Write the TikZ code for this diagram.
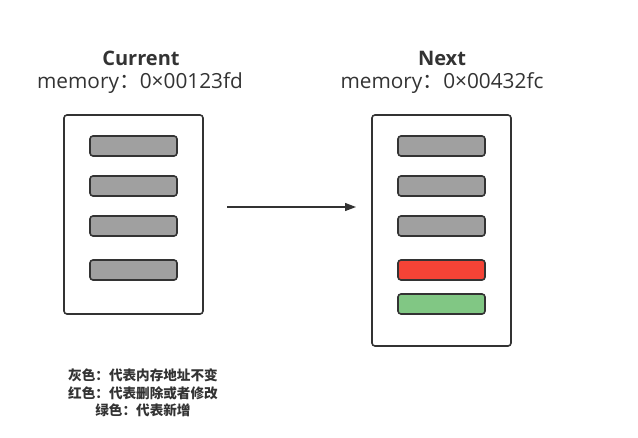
\documentclass[tikz,border=0pt]{standalone}
\usepackage{fontspec}
\setmainfont{Open Sans}
\newfontfamily\cjk{Noto Sans CJK SC}
\usetikzlibrary{arrows.meta}
\definecolor{ink}{HTML}{333333}
\definecolor{barGray}{HTML}{A0A0A0}
\definecolor{barRed}{HTML}{F44336}
\definecolor{barGreen}{HTML}{81C784}
\tikzset{
  frame/.style={draw=ink, line width=1.6pt, rounded corners=3pt, fill=white},
  bar/.style={draw=ink, line width=1.6pt, rounded corners=3pt, minimum width=87pt, minimum height=20pt, inner sep=0pt},
  title/.style={text=ink, font=\fontsize{20}{23}\selectfont\bfseries},
  subtitle/.style={text=ink, font=\fontsize{20.8}{24}\selectfont},
  legend/.style={text=ink, font=\cjk\fontsize{13.6}{17.5}\selectfont\bfseries, align=center}
}
\begin{document}
\begin{tikzpicture}[x=1pt,y=-1pt]
\useasboundingbox (0,0) rectangle (638,437);
% left
\node[frame, minimum width=139pt, minimum height=199pt, inner sep=0pt] (lbox) at (133.5,214.5) {};
\node[bar, fill=barGray] (l1) at (133.5,146) {};
\node[bar, fill=barGray] (l2) at (133.5,186) {};
\node[bar, fill=barGray] (l3) at (133.5,226) {};
\node[bar, fill=barGray] (l4) at (133.5,270) {};
% right
\node[frame, minimum width=139pt, minimum height=231pt, inner sep=0pt] (rbox) at (441.5,230.5) {};
\node[bar, fill=barGray] (r1) at (441.5,146) {};
\node[bar, fill=barGray] (r2) at (441.5,186) {};
\node[bar, fill=barGray] (r3) at (441.5,226) {};
\node[bar, fill=barRed] (r4) at (441.5,270) {};
\node[bar, fill=barGreen] (r5) at (441.5,304) {};
% titles
\node[title] (lt) at (141,58) {Current};
\node[subtitle] (ls) at (140,83) {memory{\cjk ：}0×00123fd};
\node[title] (rt) at (442,58) {Next};
\node[subtitle] (rs) at (442,83) {memory{\cjk ：}0×00432fc};
% arrow
\coordinate (a0) at (227,207);
\coordinate (a1) at (356,207);
\draw[ink, line width=1.3pt, -{Triangle[length=11pt,width=8pt]}] (a0) -- (a1);
% legend
\node[legend] (leg) at (143,393) {灰色：代表内存地址不变\\红色：代表删除或者修改\\绿色：代表新增};
\end{tikzpicture}
\end{document}
